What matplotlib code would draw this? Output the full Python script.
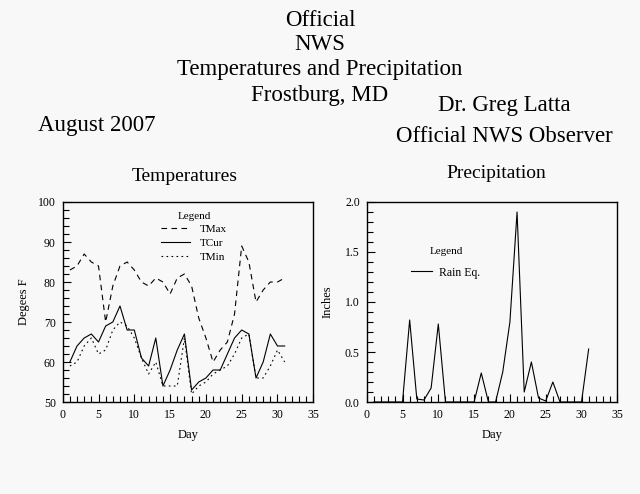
import matplotlib
matplotlib.use('Agg')
import matplotlib.pyplot as plt
from matplotlib.ticker import MultipleLocator, FormatStrFormatter

plt.rcParams['font.family'] = ['Liberation Serif', 'DejaVu Serif']

# data
days = list(range(1, 32))
tmax = [83, 84, 87, 85, 84, 70, 79, 84, 85, 83, 80, 79, 81, 80, 77, 81,
        82, 79, 71, 66, 60, 63, 65, 72, 89, 85, 75, 78, 80, 80, 81]
tcur = [60, 64, 66, 67, 65, 69, 70, 74, 68, 68, 61, 59, 66, 54, 58, 63,
        67, 53, 55, 56, 58, 58, 62, 66, 68, 67, 56, 60, 67, 64, 64]
tmin = [59, 60, 64, 66, 62, 63, 68, 70, 69, 66, 61, 57, 60, 54, 54, 54,
        66, 52, 54, 55, 57, 58, 59, 62, 66, 67, 56, 56, 59, 63, 60]
rain = [0, 0, 0, 0, 0, 0.82, 0.03, 0.02, 0.14, 0.78, 0, 0, 0, 0, 0, 0.29,
        0, 0, 0.3, 0.8, 1.9, 0.1, 0.4, 0.04, 0.01, 0.2, 0, 0, 0, 0, 0.53]

bg = '#f8f8f8'
W, H = 640, 494
fig = plt.figure(figsize=(W / 100, H / 100), dpi=100, facecolor=bg)


def px(x, y):
    return x / W, 1 - y / H


def style_axes(ax):
    ax.set_facecolor(bg)
    for s in ax.spines.values():
        s.set_linewidth(1.0)
    ax.xaxis.set_major_locator(MultipleLocator(5))
    ax.xaxis.set_minor_locator(MultipleLocator(1))
    ax.tick_params(which='both', direction='in', top=False, right=False,
                   labelsize=8.5, width=0.8)
    ax.tick_params(which='major', length=6, pad=5)
    ax.tick_params(which='minor', length=4)
    ax.set_xlim(0, 35)


lw = 0.8
ax1 = fig.add_axes([62.7 / W, 1 - 402 / H, 250.6 / W, 200 / H])
style_axes(ax1)
ax1.plot(days, tmax, color='black', lw=lw, ls=(0, (5, 4)), label='TMax')
ax1.plot(days, tcur, color='black', lw=lw, ls='-', label='TCur')
ax1.plot(days, tmin, color='black', lw=lw, ls=(0, (1.5, 3)), label='TMin')
ax1.set_ylim(50, 100)
ax1.yaxis.set_major_locator(MultipleLocator(10))
ax1.yaxis.set_minor_locator(MultipleLocator(2))
ax1.set_xlabel('Day', fontsize=9, labelpad=6)
ax1.set_ylabel('Degees F', fontsize=9, labelpad=6)
ax1.legend(loc='upper left', bbox_to_anchor=(0.37, 0.98), frameon=False,
           title='Legend', title_fontsize=8, fontsize=8,
           handlelength=2.6, handletextpad=0.9, labelspacing=0.35,
           borderpad=0)

ax2 = fig.add_axes([366.7 / W, 1 - 402 / H, 250.6 / W, 200 / H])
style_axes(ax2)
ax2.plot(days, rain, color='black', lw=lw, label='Rain Eq.')
ax2.set_ylim(0, 2)
ax2.yaxis.set_major_locator(MultipleLocator(0.5))
ax2.yaxis.set_minor_locator(MultipleLocator(0.1))
ax2.yaxis.set_major_formatter(FormatStrFormatter('%.1f'))
ax2.set_xlabel('Day', fontsize=9, labelpad=6)
ax2.set_ylabel('Inches', fontsize=9, labelpad=8)
ax2.legend(loc='upper left', bbox_to_anchor=(0.155, 0.805), frameon=False,
           title='Legend', title_fontsize=8, fontsize=8.5,
           handlelength=1.75, handletextpad=0.6, labelspacing=0.9,
           borderpad=0)

big = 16.5
for txt, y in [('Official', 20), ('NWS', 45),
               ('Temperatures and Precipitation', 70), ('Frostburg, MD', 95)]:
    fig.text(*px(320, y), txt, ha='center', va='center', fontsize=big)
fig.text(*px(38, 125), 'August 2007', ha='left', va='center', fontsize=big)
fig.text(*px(504, 106), 'Dr. Greg Latta', ha='center', va='center', fontsize=big)
fig.text(*px(504, 137), 'Official NWS Observer', ha='center', va='center',
         fontsize=big)
fig.text(*px(185, 176), 'Temperatures', ha='center', va='center', fontsize=14)
fig.text(*px(496, 174), 'Precipitation', ha='center', va='center', fontsize=14)

fig.savefig('out.png', dpi=100, facecolor=bg)
